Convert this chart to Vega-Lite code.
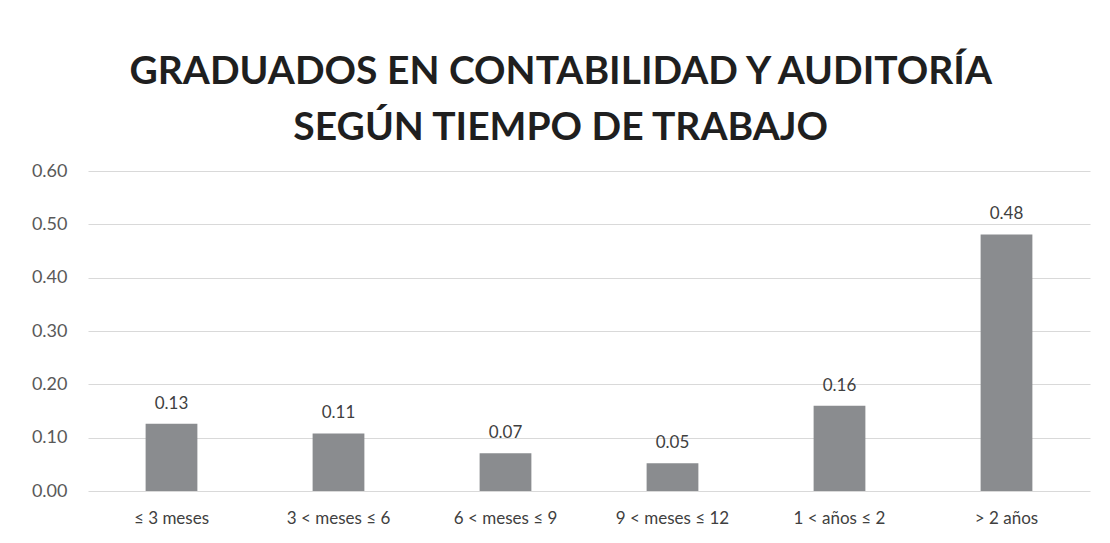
{
  "$schema": "https://vega.github.io/schema/vega-lite/v6.json",
  "width": 1002,
  "height": 320,
  "autosize": "none",
  "padding": {"left": 88, "top": 171, "right": 20, "bottom": 52},
  "background": "white",
  "title": {
    "text": ["GRADUADOS EN CONTABILIDAD Y AUDITORÍA", "SEGÚN TIEMPO DE TRABAJO"],
    "font": "Lato",
    "fontSize": 39,
    "fontWeight": "bold",
    "color": "#1f1f1f",
    "lineHeight": 56,
    "anchor": "middle",
    "frame": "bounds",
    "offset": 14
  },
  "data": {
    "values": [
      {"categoria": "≤ 3 meses", "valor": 0.126},
      {"categoria": "3 < meses ≤ 6", "valor": 0.108},
      {"categoria": "6 < meses ≤ 9", "valor": 0.071},
      {"categoria": "9 < meses ≤ 12", "valor": 0.052},
      {"categoria": "1 < años ≤ 2", "valor": 0.160},
      {"categoria": "> 2 años", "valor": 0.481}
    ]
  },
  "encoding": {
    "x": {
      "field": "categoria",
      "type": "nominal",
      "sort": null,
      "scale": {"paddingInner": 0.69, "paddingOuter": 0.345},
      "axis": {
        "title": null,
        "labelAngle": 0,
        "labelFont": "Lato",
        "labelFontSize": 17,
        "labelColor": "#404040",
        "labelPadding": 19,
        "domain": false,
        "ticks": false,
        "grid": false
      }
    },
    "y": {
      "field": "valor",
      "type": "quantitative",
      "scale": {"domain": [0, 0.6], "nice": false},
      "axis": {
        "title": null,
        "values": [0, 0.1, 0.2, 0.3, 0.4, 0.5, 0.6],
        "format": ".2f",
        "labelFont": "Lato",
        "labelFontSize": 18,
        "labelColor": "#595959",
        "labelPadding": 21,
        "domain": false,
        "ticks": false,
        "grid": true,
        "gridColor": "#d9d9d9",
        "gridWidth": 1
      }
    }
  },
  "layer": [
    {"mark": {"type": "bar", "color": "#8a8c8f"}},
    {
      "mark": {"type": "text", "baseline": "bottom", "dy": -11, "font": "Lato", "fontSize": 17, "color": "#404040"},
      "encoding": {"text": {"field": "valor", "type": "quantitative", "format": ".2f"}}
    }
  ],
  "config": {"view": {"stroke": null}}
}
